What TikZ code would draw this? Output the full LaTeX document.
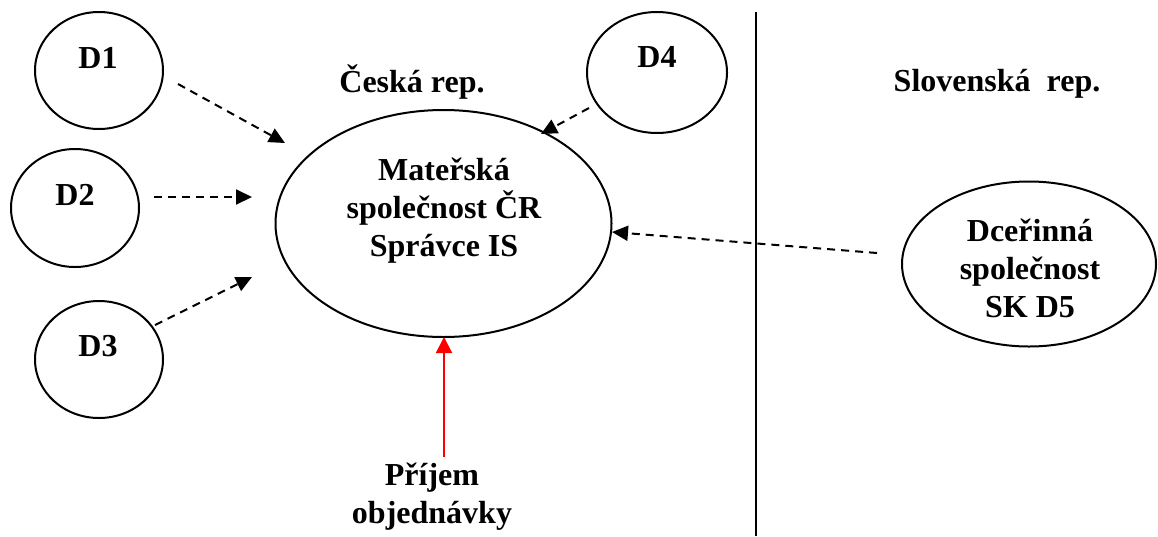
\documentclass[tikz,border=0pt]{standalone}
\usepackage{fontspec}
\setmainfont{Liberation Serif}
\usetikzlibrary{shapes.geometric,arrows.meta}
\begin{document}
\begin{tikzpicture}[x=1pt,y=-1pt,
  oval/.style={draw,line width=2pt,ellipse,inner sep=0pt},
  lbl/.style={font=\fontsize{32}{38}\selectfont\bfseries,align=center,inner sep=0pt},
  darrow/.style={line width=2pt,dash pattern=on 8pt off 6pt,-{Triangle[length=16pt,width=15pt]}},
  rarrow/.style={line width=2pt,red,-{Triangle[length=16pt,width=16pt]}}]
\useasboundingbox (0,0) rectangle (1158,536);
% ellipses
\node[oval,minimum width=128pt,minimum height=117pt] (d1) at (99,70.5) {};
\node[oval,minimum width=128pt,minimum height=118pt] (d2) at (75,208) {};
\node[oval,minimum width=128pt,minimum height=117pt] (d3) at (99,359.5) {};
\node[oval,minimum width=140pt,minimum height=121pt] (d4) at (657,72.5) {};
\node[oval,minimum width=336pt,minimum height=227pt] (main) at (443.5,223.5) {};
\node[oval,minimum width=254pt,minimum height=165pt] (d5) at (1029,264) {};
% labels
\node[lbl] (t1) at (98,57.5) {D1};
\node[lbl] (t2) at (75,195) {D2};
\node[lbl] (t3) at (98,346) {D3};
\node[lbl] (t4) at (657,57) {D4};
\node[lbl] (tmain) at (444,211) {Mateřská\\společnost ČR\\Správce IS};
\node[lbl] (t5) at (1030,268) {Dceřinná\\společnost\\SK D5};
\node[lbl] (cz) at (412,82) {Česká rep.};
\node[lbl] (sk) at (997,84) {Slovenská~ rep.};
\node[lbl] (order) at (432,497) {Příjem\\objednávky};
% divider
\coordinate (vtop) at (756,12);
\coordinate (vbot) at (756,536);
\draw[line width=2.7pt] (vtop) -- (vbot);
% arrow end points
\coordinate (a1s) at (178,84);  \coordinate (a1e) at (285,143);
\coordinate (a2s) at (154,197); \coordinate (a2e) at (252,197);
\coordinate (a3s) at (155,325); \coordinate (a3e) at (252,277);
\coordinate (a4s) at (589,108); \coordinate (a4e) at (541,134);
\coordinate (a5s) at (877,253); \coordinate (a5e) at (612,232);
\coordinate (rs) at (444,457);  \coordinate (re) at (444,337);
\draw[darrow] (a1s) -- (a1e);
\draw[darrow] (a2s) -- (a2e);
\draw[darrow] (a3s) -- (a3e);
\draw[darrow] (a4s) -- (a4e);
\draw[darrow] (a5s) -- (a5e);
\draw[rarrow] (rs) -- (re);
\end{tikzpicture}
\end{document}
